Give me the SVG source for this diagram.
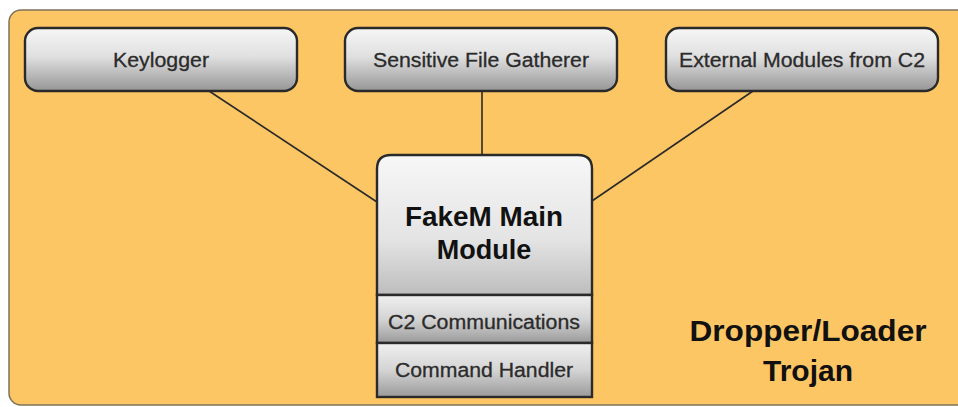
<svg xmlns="http://www.w3.org/2000/svg" width="958" height="407" viewBox="0 0 958 407">
<defs>
<linearGradient id="g" x1="0" y1="0" x2="0" y2="1">
<stop offset="0" stop-color="#f6f6f6"/>
<stop offset="0.45" stop-color="#e0e0e0"/>
<stop offset="1" stop-color="#969696"/>
</linearGradient>
<linearGradient id="gm" x1="0" y1="0" x2="0" y2="1">
<stop offset="0" stop-color="#f7f7f7"/>
<stop offset="0.6" stop-color="#e4e4e4"/>
<stop offset="1" stop-color="#bdbdbd"/>
</linearGradient>
<linearGradient id="gs" x1="0" y1="0" x2="0" y2="1">
<stop offset="0" stop-color="#f0f0f0"/>
<stop offset="0.5" stop-color="#d4d4d4"/>
<stop offset="1" stop-color="#9a9a9a"/>
</linearGradient>
</defs>
<style>
.box{stroke:#2a2a2a;stroke-width:2.4}
.lbl{font-family:"Liberation Sans",Arial,sans-serif;font-size:20px;fill:#2b2b2b;stroke:#2b2b2b;stroke-width:0.3;text-anchor:middle}
.big{font-family:"Liberation Sans",Arial,sans-serif;font-weight:bold;fill:#111;text-anchor:middle}
.conn{stroke:#2a2a2a;stroke-width:1.6;fill:none}
</style>
<rect x="0" y="0" width="958" height="407" fill="#ffffff"/>
<rect id="panel" x="9" y="10" width="975" height="395" rx="12" fill="#fdc664" stroke="#7d735a" stroke-width="1.5"/>
<g id="connectors">
<line class="conn" x1="209" y1="91" x2="377" y2="202"/>
<line class="conn" x1="482" y1="91" x2="482" y2="155"/>
<line class="conn" x1="753" y1="91" x2="592" y2="201"/>
</g>
<g id="keylogger">
<rect class="box" x="25" y="28" width="272" height="63" rx="13" fill="url(#g)"/>
<text class="lbl" x="161" y="67" textLength="96" lengthAdjust="spacingAndGlyphs">Keylogger</text>
</g>
<g id="sensitive">
<rect class="box" x="345" y="28" width="272" height="63" rx="13" fill="url(#g)"/>
<text class="lbl" x="481" y="67" textLength="216" lengthAdjust="spacingAndGlyphs">Sensitive File Gatherer</text>
</g>
<g id="external">
<rect class="box" x="666" y="28" width="272" height="63" rx="13" fill="url(#g)"/>
<text class="lbl" x="802" y="67" textLength="246" lengthAdjust="spacingAndGlyphs">External Modules from C2</text>
</g>
<g id="main">
<path class="box" d="M377,295 V169 Q377,155 391,155 H578 Q592,155 592,169 V295 Z" fill="url(#gm)"/>
<text class="big" x="484" y="226" font-size="27" textLength="158" lengthAdjust="spacingAndGlyphs">FakeM Main</text>
<text class="big" x="484" y="259" font-size="27">Module</text>
</g>
<g id="c2comm">
<rect class="box" x="377" y="295" width="215" height="48" fill="url(#gs)"/>
<text class="lbl" x="484" y="329" textLength="192" lengthAdjust="spacingAndGlyphs">C2 Communications</text>
</g>
<g id="cmdhandler">
<rect class="box" x="377" y="343" width="215" height="54" fill="url(#gs)"/>
<text class="lbl" x="484" y="377" textLength="178" lengthAdjust="spacingAndGlyphs">Command Handler</text>
</g>
<g id="title">
<text class="big" x="808" y="341" font-size="30" textLength="237" lengthAdjust="spacingAndGlyphs">Dropper/Loader</text>
<text class="big" x="808" y="381" font-size="30">Trojan</text>
</g>
</svg>
